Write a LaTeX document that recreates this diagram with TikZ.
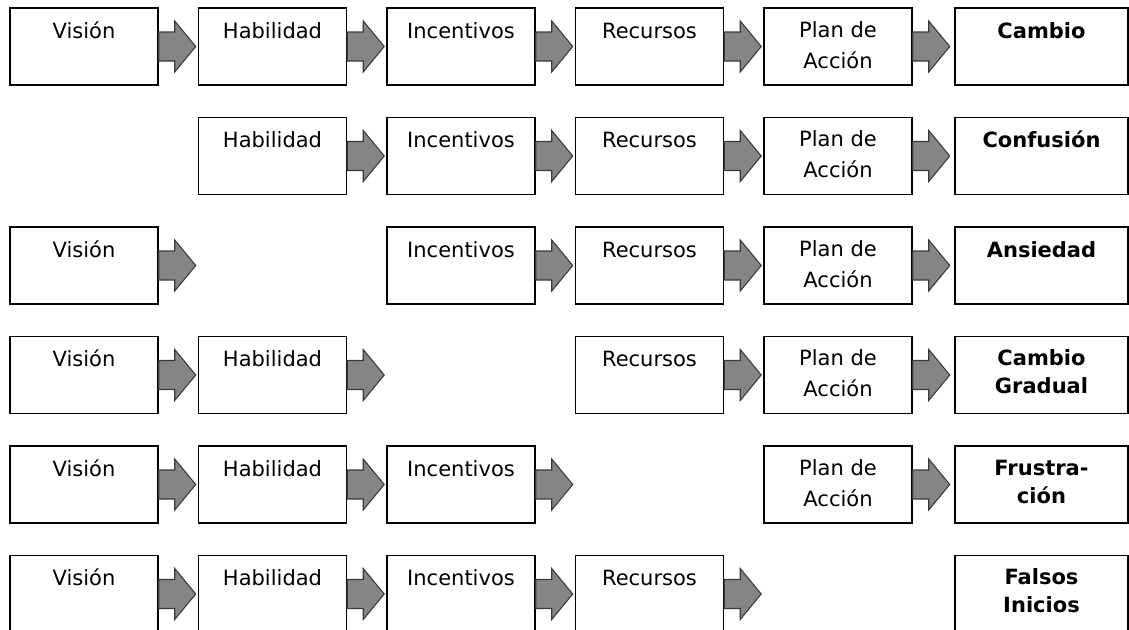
\documentclass[tikz,border=0pt]{standalone}
\usepackage{fontspec}
\setmainfont{DejaVu Sans}
\definecolor{grisflecha}{HTML}{858585}
\definecolor{bordeflecha}{HTML}{3A3A3A}

\begin{document}
\begin{tikzpicture}[x=0.75pt,y=-0.75pt,
    caja/.style={draw=black,line width=1.1pt,fill=white,minimum width=111pt,
      inner xsep=2pt,inner ysep=10.5pt,text height=12pt,text depth=24.75pt,
      align=center,font=\fontsize{15.75}{23.25}\selectfont},
    caja doble/.style={caja,text height=34.5pt,text depth=2.25pt},
    resultado/.style={caja,minimum width=129.75pt,
      font=\fontsize{15.75}{21}\selectfont\bfseries},
    resultado doble/.style={resultado,text height=32.25pt,text depth=4.5pt},
    flecha/.style={fill=grisflecha,draw=bordeflecha,line width=0.8pt,line join=miter}]
          \useasboundingbox (0,0) rectangle (1129,629);
          % fila 1
          \node[caja] (v1) at (84,46.5) {Visión};
          \node[caja] (h1) at (272.5,46.5) {Habilidad};
          \node[caja] (i1) at (461,46.5) {Incentivos};
          \node[caja] (r1) at (649.5,46.5) {Recursos};
          \node[caja doble] (p1) at (838,46.5) {Plan de\\Acción};
          \node[resultado] (res1) at (1041.5,46.5) {Cambio};
          % fila 2
          \node[caja] (h2) at (272.5,156) {Habilidad};
          \node[caja] (i2) at (461,156) {Incentivos};
          \node[caja] (r2) at (649.5,156) {Recursos};
          \node[caja doble] (p2) at (838,156) {Plan de\\Acción};
          \node[resultado] (res2) at (1041.5,156) {Confusión};
          % fila 3
          \node[caja] (v3) at (84,265.5) {Visión};
          \node[caja] (i3) at (461,265.5) {Incentivos};
          \node[caja] (r3) at (649.5,265.5) {Recursos};
          \node[caja doble] (p3) at (838,265.5) {Plan de\\Acción};
          \node[resultado] (res3) at (1041.5,265.5) {Ansiedad};
          % fila 4
          \node[caja] (v4) at (84,375) {Visión};
          \node[caja] (h4) at (272.5,375) {Habilidad};
          \node[caja] (r4) at (649.5,375) {Recursos};
          \node[caja doble] (p4) at (838,375) {Plan de\\Acción};
          \node[resultado doble] (res4) at (1041.5,375) {Cambio\\Gradual};
          % fila 5
          \node[caja] (v5) at (84,484.5) {Visión};
          \node[caja] (h5) at (272.5,484.5) {Habilidad};
          \node[caja] (i5) at (461,484.5) {Incentivos};
          \node[caja doble] (p5) at (838,484.5) {Plan de\\Acción};
          \node[resultado doble] (res5) at (1041.5,484.5) {Frustra-\\ción};
          % fila 6
          \node[caja] (v6) at (84,594) {Visión};
          \node[caja] (h6) at (272.5,594) {Habilidad};
          \node[caja] (i6) at (461,594) {Incentivos};
          \node[caja] (r6) at (649.5,594) {Recursos};
          \node[resultado doble] (res6) at (1041.5,594) {Falsos\\Inicios};
          % flechas
          \foreach \n in {v1,h1,i1,r1,p1,h2,i2,r2,p2,v3,i3,r3,p3,v4,h4,r4,p4,v5,h5,i5,p5,v6,h6,i6,r6}
            \draw[flecha,shift={(\n.east)}] (0,-14.5) -- (16,-14.5) -- (16,-25.5) -- (37,0)
              -- (16,25.5) -- (16,14.5) -- (0,14.5) -- cycle;
        \end{tikzpicture}
\end{document}
